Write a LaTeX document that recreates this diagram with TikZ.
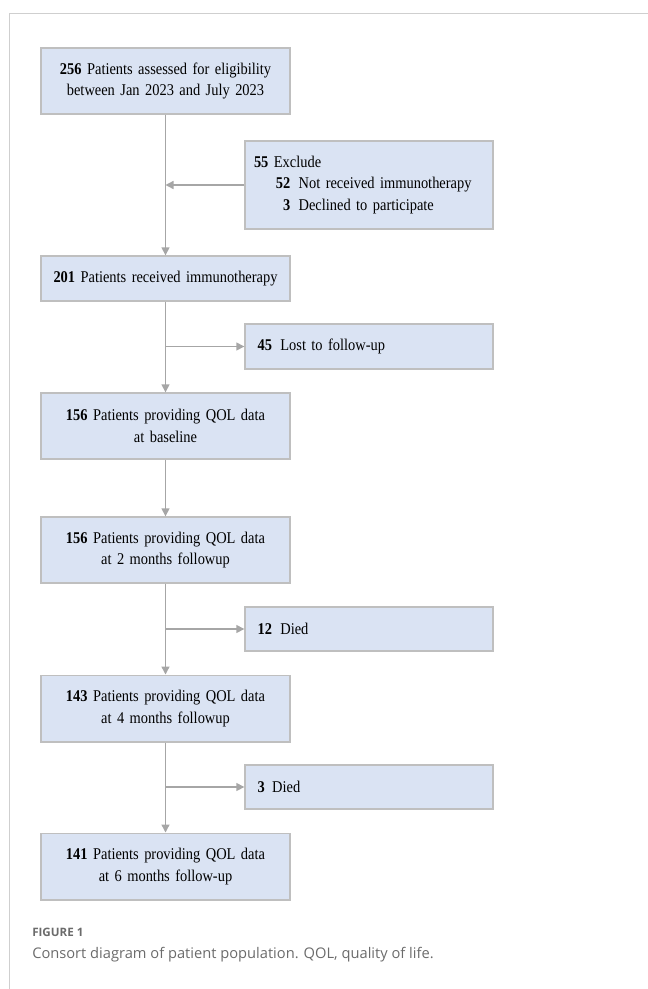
\documentclass[tikz,border=0pt]{standalone}
\usepackage{fontspec}
\setmainfont[FakeStretch=0.88]{Liberation Serif}
\newfontfamily\capfont{Open Sans}
\usetikzlibrary{arrows.meta}

\definecolor{boxfill}{HTML}{DAE3F3}
\definecolor{boxline}{HTML}{BFBFBF}
\definecolor{flowgray}{HTML}{A6A6A6}
\definecolor{framegray}{HTML}{CFCFCF}
\definecolor{captext}{HTML}{6B6B6B}

\begin{document}
\begin{tikzpicture}[x=0.75pt, y=-0.75pt,
  >={Triangle[length=6pt,width=6pt]},
  basebox/.style={draw=boxline, fill=boxfill, line width=1pt,
    font=\fontsize{12.3}{16}\selectfont},
  mainbox/.style={basebox, align=center, text width=178.75pt,
    inner xsep=4pt, inner ysep=0pt},
  sidebox/.style={basebox, align=left, text width=178pt,
    inner xsep=4pt, inner ysep=0pt},
  flow/.style={->, draw=flowgray, line width=1pt}]
  \useasboundingbox (0,0) rectangle (648,989);
  % ---- frame ----
  \draw[framegray, line width=0.75pt] (9,989) -- (9,13) -- (648,13);
  % ---- main column ----
  \node[mainbox, minimum height=49.5pt] (assess) at (165.5,81)
    {\textbf{256} Patients assessed for eligibility\\between Jan 2023 and July 2023};
  \node[mainbox, minimum height=33.75pt] (recv) at (165.5,278.5)
    {\textbf{201} Patients received immunotherapy};
  \node[mainbox, minimum height=49.5pt] (base) at (165.5,426)
    {\textbf{156} Patients providing QOL data\\at baseline};
  \node[mainbox, minimum height=49.5pt] (mtwo) at (165.5,550)
    {\textbf{156} Patients providing QOL data\\at 2 months followup};
  \node[mainbox, minimum height=50pt] (mfour) at (165.5,708.5)
    {\textbf{143} Patients providing QOL data\\at 4 months followup};
  \node[mainbox, minimum height=50pt] (msix) at (165.5,866.5)
    {\textbf{141} Patients providing QOL data\\at 6 months follow-up};
  % ---- side boxes ----
  \node[sidebox, minimum height=66pt] (excl) at (369,185)
    {\hspace*{2.75pt}\textbf{55} Exclude\\
     \hspace*{19.25pt}\makebox[10.8pt][r]{\textbf{52}}\hspace{6.2pt}Not received immunotherapy\\
     \hspace*{19.25pt}\makebox[10.8pt][r]{\textbf{3}}\hspace{6.2pt}Declined to participate};
  \node[sidebox, minimum height=33.75pt] (lost) at (369,346.5)
    {\hspace*{5.5pt}\textbf{45}\hspace{6.2pt}Lost to follow-up};
  \node[sidebox, minimum height=33pt] (diedA) at (369,629)
    {\hspace*{5.5pt}\textbf{12}\hspace{6.2pt}Died};
  \node[sidebox, minimum height=33pt] (diedB) at (369,787)
    {\hspace*{5.5pt}\textbf{3}\hspace{5.5pt}Died};
  % ---- junctions on the main line ----
  \coordinate (jexcl) at (assess.south |- excl.west);
  \coordinate (jlost) at (recv.south |- lost.west);
  \coordinate (jdiedA) at (mtwo.south |- diedA.west);
  \coordinate (jdiedB) at (mfour.south |- diedB.west);
  % ---- connectors ----
  \draw[flow] (assess.south) -- (recv.north);
  \draw[flow] (excl.west) -- (jexcl);
  \draw[flow] (recv.south) -- (base.north);
  \draw[flow] (jlost) -- (lost.west);
  \draw[flow] (base.south) -- (mtwo.north);
  \draw[flow] (mtwo.south) -- (mfour.north);
  \draw[flow] (jdiedA) -- (diedA.west);
  \draw[flow] (mfour.south) -- (msix.north);
  \draw[flow] (jdiedB) -- (diedB.west);
  % ---- caption ----
  \node[anchor=west, inner sep=0pt, text=captext, font=\capfont\bfseries\fontsize{8.7}{11}\selectfont]
    (figlabel) at (32,932) {FIGURE 1};
  \node[anchor=west, inner sep=0pt, text=captext, font=\capfont\fontsize{11}{13}\selectfont]
    (figcap) at (32,955) {Consort diagram of patient population. QOL, quality of life.};
\end{tikzpicture}
\end{document}
